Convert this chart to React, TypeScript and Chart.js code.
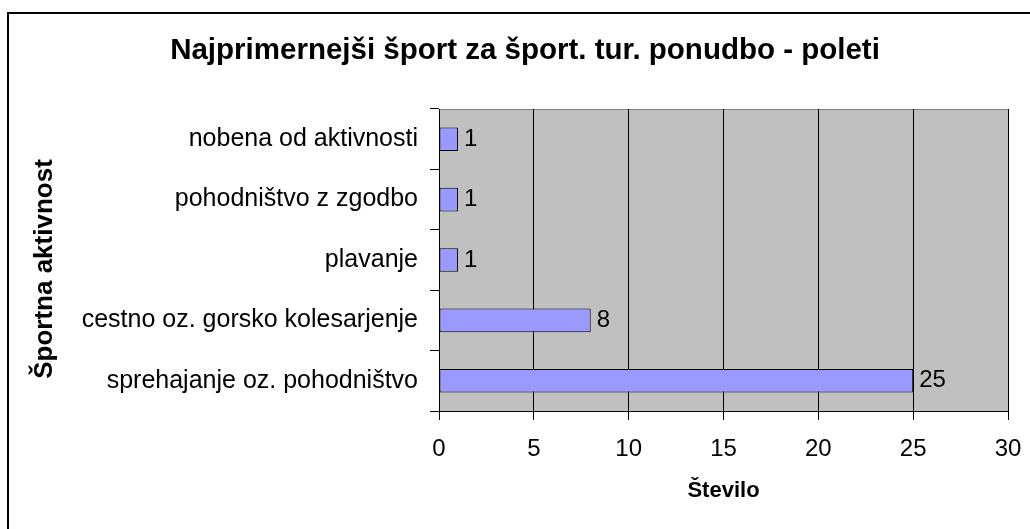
import React, { useEffect, useRef } from "react";
import { Chart, registerables } from "chart.js";

Chart.register(...registerables);

const categories = [
  "nobena od aktivnosti",
  "pohodništvo z zgodbo",
  "plavanje",
  "cestno oz. gorsko kolesarjenje",
  "sprehajanje oz. pohodništvo",
];
const counts = [1, 1, 1, 8, 25];
const chartTitle = "Najprimernejši šport za šport. tur. ponudbo - poleti";
const xTitle = "Število";
const yTitle = "Športna aktivnost";
const xMin = 0;
const xMax = 30;
const xStep = 5;

const FONT = '"Liberation Sans", Arial, sans-serif';

export default function App() {
  const ref = useRef<HTMLCanvasElement>(null);

  useEffect(() => {
    if (!ref.current) return;

    const framePlugin = {
      id: "frame",
      beforeDraw(chart: any) {
        const { ctx, chartArea: a } = chart;
        ctx.save();
        ctx.fillStyle = "#ffffff";
        ctx.fillRect(0, 0, chart.width, chart.height);
        ctx.fillStyle = "#000000";
        ctx.fillRect(7, 12, chart.width - 7, 2);
        ctx.fillRect(7, 12, 2, chart.height - 12);
        ctx.fillStyle = "#C0C0C0";
        ctx.fillRect(a.left, a.top, a.right - a.left, a.bottom - a.top);
        ctx.strokeStyle = "#808080";
        ctx.lineWidth = 1;
        ctx.beginPath();
        ctx.moveTo(a.left, a.top + 0.5);
        ctx.lineTo(a.right, a.top + 0.5);
        ctx.stroke();
        ctx.fillStyle = "#000000";
        ctx.textAlign = "center";
        ctx.textBaseline = "middle";
        ctx.font = `bold 29.5px ${FONT}`;
        ctx.fillText(chartTitle, 525, 51);
        ctx.translate(45, 269);
        ctx.rotate(-Math.PI / 2);
        ctx.font = `bold 26px ${FONT}`;
        ctx.fillText(yTitle, 0, 0);
        ctx.restore();
      },
    };

    const valueLabelPlugin = {
      id: "valueLabels",
      afterDatasetsDraw(chart: any) {
        const { ctx } = chart;
        const meta = chart.getDatasetMeta(0);
        ctx.save();
        ctx.font = `24px ${FONT}`;
        ctx.fillStyle = "#000000";
        ctx.textAlign = "left";
        ctx.textBaseline = "middle";
        meta.data.forEach((bar: any, i: number) => {
          ctx.fillText(String(counts[i]), bar.x + 6, bar.y);
        });
        ctx.restore();
      },
    };

    const chart = new Chart(ref.current, {
      type: "bar",
      data: {
        labels: categories,
        datasets: [
          {
            data: counts,
            backgroundColor: "#9999FF",
            borderColor: "#000000",
            borderWidth: 1,
            borderSkipped: false,
            barPercentage: 0.39,
            categoryPercentage: 1,
          },
        ],
      },
      options: {
        indexAxis: "y",
        responsive: false,
        animation: false,
        devicePixelRatio: 1,
        layout: { padding: { top: 109, right: 22, bottom: 0, left: 0 } },
        plugins: {
          legend: { display: false },
          tooltip: { enabled: false },
          title: { display: false },
        },
        scales: {
          x: {
            type: "linear",
            min: xMin,
            max: xMax,
            ticks: {
              stepSize: xStep,
              color: "#000000",
              font: { family: FONT, size: 24 },
              padding: 15,
            },
            grid: {
              color: "#000000",
              lineWidth: 1,
              drawTicks: true,
              tickLength: 9,
              tickColor: "#000000",
            },
            border: { display: true, color: "#000000", width: 1 },
            title: {
              display: true,
              text: xTitle,
              color: "#000000",
              font: { family: FONT, size: 22, weight: "bold" },
              padding: { top: 0, bottom: 25 },
            },
            afterFit(scale: any) {
              scale.height = 118;
              scale.paddingRight = 0;
              scale.paddingLeft = 0;
            },
          },
          y: {
            type: "category",
            offset: true,
            ticks: {
              color: "#000000",
              font: { family: FONT, size: 25 },
              padding: 12,
            },
            grid: {
              offset: true,
              drawOnChartArea: false,
              drawTicks: true,
              tickLength: 9,
              color: "#000000",
              tickColor: "#000000",
            },
            border: { display: true, color: "#000000", width: 1 },
            title: { display: false },
            afterFit(scale: any) {
              scale.width = 439;
              scale.paddingTop = 0;
              scale.paddingBottom = 0;
            },
          },
        },
      },
      plugins: [framePlugin, valueLabelPlugin],
    });

    return () => chart.destroy();
  }, []);

  return (
    <div style={{ position: "absolute", left: 0, top: 0, width: 1030, height: 529 }}>
      <canvas ref={ref} width={1030} height={529} style={{ display: "block" }} />
    </div>
  );
}
